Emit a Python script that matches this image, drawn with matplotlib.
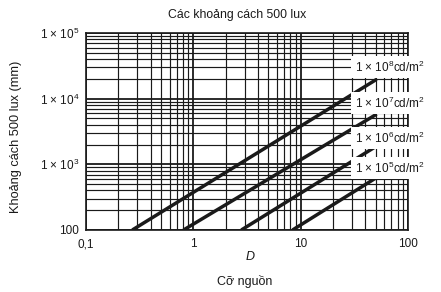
import matplotlib
matplotlib.use("Agg")
import matplotlib.pyplot as plt

plt.rcParams["font.family"] = ["Liberation Sans", "DejaVu Sans"]
plt.rcParams["mathtext.fontset"] = "custom"
plt.rcParams["mathtext.rm"] = "Liberation Sans"
plt.rcParams["mathtext.it"] = "Liberation Sans:italic"

# luminance curves: distance for 500 lux vs source size D
LUMINANCE = ["1 × 10$^8$cd/m$^2$", "1 × 10$^7$cd/m$^2$",
             "1 × 10$^6$cd/m$^2$", "1 × 10$^5$cd/m$^2$"]
D_START = [0.27, 0.81, 2.8, 8.4]
DIST_START = [100, 100, 100, 100]
D_END = [51, 51, 51, 51]
DIST_END = [19700, 5800, 1900, 630]

X_TICKS = [0.1, 1, 10, 100]
X_TICKLABELS = ["0,1", "1", "10", "100"]
Y_TICKS = [100, 1e3, 1e4, 1e5]
Y_TICKLABELS = ["100", "1 × 10$^3$", "1 × 10$^4$", "1 × 10$^5$"]

INK = "#1a1a1a"
W, H = 441, 292

fig = plt.figure(figsize=(W / 100, H / 100), dpi=100)
ax = fig.add_axes([86 / W, 1 - 230 / H, 322 / W, 197 / H])
ax.set_xscale("log")
ax.set_yscale("log")
ax.set_xlim(0.1, 100)
ax.set_ylim(100, 1e5)

ax.grid(which="major", color=INK, lw=1.3)
ax.grid(which="minor", color=INK, lw=0.85)
ax.set_axisbelow(True)
for s in ax.spines.values():
    s.set_color(INK)
    s.set_linewidth(1.2)

ax.set_xticks(X_TICKS)
ax.set_xticklabels(X_TICKLABELS)
ax.set_yticks(Y_TICKS)
ax.set_yticklabels(Y_TICKLABELS)
ax.tick_params(which="both", length=0, labelsize=8.5, colors=INK)
ax.tick_params(axis="x", pad=6)
ax.tick_params(axis="y", pad=5)

label_y = [0.827, 0.645, 0.467, 0.315]
for name, x0, y0, x1, y1, ly in zip(LUMINANCE, D_START, DIST_START,
                                     D_END, DIST_END, label_y):
    ax.plot([x0, x1], [y0, y1], color=INK, lw=2.5, solid_capstyle="butt", zorder=4)
    ax.text(0.835, ly, name, transform=ax.transAxes, fontsize=8.5, color=INK,
            va="center", ha="left", clip_on=False, zorder=5,
            bbox=dict(facecolor="white", edgecolor="none", pad=2.5))

fig.text(237 / W, 1 - 15 / H, "Các khoảng cách 500 lux", ha="center",
         va="center", fontsize=8.8, color=INK)
fig.text(250 / W, 1 - 257 / H, "D", ha="center", va="center", fontsize=9,
         style="italic", color=INK)
fig.text(245 / W, 1 - 281 / H, "Cỡ nguồn", ha="center", va="center",
         fontsize=9, color=INK)
fig.text(16 / W, 1 - 137 / H, "Khoảng cách 500 lux (mm)", ha="center",
         va="center", rotation=90, fontsize=9.2, color=INK)

fig.savefig("out.png", dpi=100, facecolor="white")
